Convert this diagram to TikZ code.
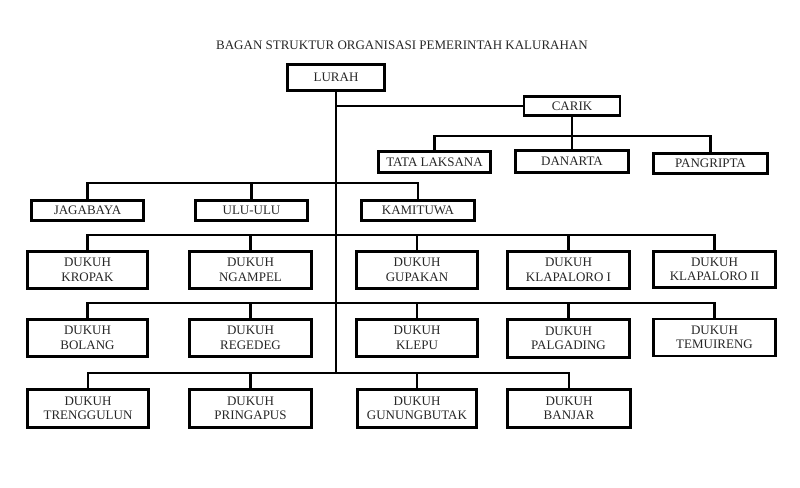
\documentclass[tikz,border=0pt]{standalone}
\usepackage{fontspec}
\setmainfont{Liberation Serif}
\begin{document}
\begin{tikzpicture}[x=1pt,y=-1pt,
  txt/.style={font=\fontsize{13}{14.5}\selectfont, text=black!85},
  box/.style={txt, draw, line width=2.8pt, inner sep=0pt, align=center, minimum height=#1},
  box/.default=20,
  conn/.style={line width=2.6pt}]
\useasboundingbox (0,0) rectangle (800,487);
\node[txt] (title) at (402,45) {BAGAN STRUKTUR ORGANISASI PEMERINTAH KALURAHAN};
% top
\node[box=26, minimum width=97] (lurah) at (336,77.5) {LURAH};
\node[box=19, minimum width=96] (carik) at (572,106) {CARIK};
\node[box=21, minimum width=112] (tata) at (434.5,162) {TATA LAKSANA};
\node[box=22, minimum width=113] (danarta) at (572,161.5) {DANARTA};
\node[box=20, minimum width=114] (pangripta) at (710.5,163.5) {PANGRIPTA};
\node[box=20, minimum width=112] (jagabaya) at (87.5,210.5) {JAGABAYA};
\node[box=20, minimum width=112] (ulu) at (251.5,210.5) {ULU-ULU};
\node[box=20, minimum width=113] (kamituwa) at (418,210.5) {KAMITUWA};
% row 1
\node[box=37, minimum width=120] (kropak) at (87.5,270) {DUKUH\\KROPAK};
\node[box=37, minimum width=122] (ngampel) at (250.5,270) {DUKUH\\NGAMPEL};
\node[box=37, minimum width=121] (gupakan) at (417,270) {DUKUH\\GUPAKAN};
\node[box=37, minimum width=122] (klapi) at (568.5,270) {DUKUH\\KLAPALORO I};
\node[box=36, minimum width=122] (klapii) at (714.5,269.5) {DUKUH\\KLAPALORO II};
% row 2
\node[box=37, minimum width=120] (bolang) at (87.5,338) {DUKUH\\BOLANG};
\node[box=37, minimum width=122] (regedeg) at (250.5,338) {DUKUH\\REGEDEG};
\node[box=37, minimum width=121] (klepu) at (417,338) {DUKUH\\KLEPU};
\node[box=38, minimum width=122] (palgading) at (568.5,338.5) {DUKUH\\PALGADING};
\node[box=37, minimum width=122] (temuireng) at (714.5,337.5) {DUKUH\\TEMUIRENG};
% row 3
\node[box=38, minimum width=121] (trenggulun) at (88,408.5) {DUKUH\\TRENGGULUN};
\node[box=38, minimum width=122] (pringapus) at (250.5,408.5) {DUKUH\\PRINGAPUS};
\node[box=38, minimum width=119] (gunungbutak) at (417,408.5) {DUKUH\\GUNUNGBUTAK};
\node[box=38, minimum width=123] (banjar) at (569,408.5) {DUKUH\\BANJAR};
% bus levels
\coordinate (b0) at (0,136);
\coordinate (b1) at (0,183);
\coordinate (b2) at (0,235);
\coordinate (b3) at (0,303);
\coordinate (b4) at (0,373);
\coordinate (mainend) at (336,373);
% connectors
\draw[conn] (lurah.south) -- (mainend);
\draw[conn] (lurah.south |- carik.west) -- (carik.west);
\draw[conn] (carik.south) -- (carik.south |- b0);
\draw[conn] (tata.north) -- (tata.north |- b0) -| (pangripta.north);
\draw[conn] (danarta.north) -- (danarta.north |- b0);
\draw[conn] (jagabaya.north) -- (jagabaya.north |- b1) -| (kamituwa.north);
\draw[conn] (ulu.north) -- (ulu.north |- b1);
\draw[conn] (kropak.north) -- (kropak.north |- b2) -| (klapii.north);
\draw[conn] (ngampel.north) -- (ngampel.north |- b2);
\draw[conn] (gupakan.north) -- (gupakan.north |- b2);
\draw[conn] (klapi.north) -- (klapi.north |- b2);
\draw[conn] (bolang.north) -- (bolang.north |- b3) -| (temuireng.north);
\draw[conn] (regedeg.north) -- (regedeg.north |- b3);
\draw[conn] (klepu.north) -- (klepu.north |- b3);
\draw[conn] (palgading.north) -- (palgading.north |- b3);
\draw[conn] (trenggulun.north) -- (trenggulun.north |- b4) -| (banjar.north);
\draw[conn] (pringapus.north) -- (pringapus.north |- b4);
\draw[conn] (gunungbutak.north) -- (gunungbutak.north |- b4);
\end{tikzpicture}
\end{document}
